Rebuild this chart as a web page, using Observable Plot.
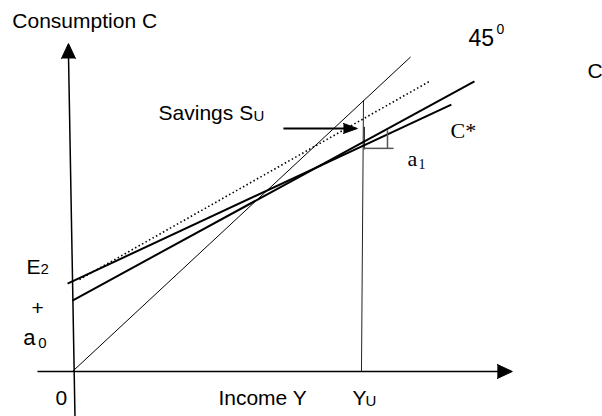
<!DOCTYPE html>
<html>
<head>
<meta charset="utf-8">
<script src="https://cdn.jsdelivr.net/npm/d3@7"></script>
<script src="https://cdn.jsdelivr.net/npm/@observablehq/plot@0.6"></script>
<style>
  html, body { margin: 0; padding: 0; background: #fff; }
  svg { display: block; }
</style>
</head>
<body>
<div id="chart"></div>
<script>
// ---- Data (abstract income / consumption units; 45° line is C = Y) ----
const incomeYU = 100;                       // income level Y_U
const lineNames = ["45°", "E2 line", "savings ref", "a0 line"];
const lineX1 = [0, -1.7, 2.4, 0];
const lineY1 = [0, 32.7, 34.2, 26.4];
const lineX2 = [117, 131.1, 123.5, 139.1];
const lineY2 = [117, 99.3, 107.9, 107.9];

// axes extents
const axisXmin = -12.1, axisXmax = 152.2;   // income axis
const axisYmin = -16.7, axisYmax = 122.0;   // consumption axis

// slope triangle a1 (at Y_U)
const triX = [100.7, 111.1, 109.0];
const triY = [83.0, 83.0, 89.7];

// Savings arrow
const savX1 = 73.0, savX2 = 98.6, savY = 90.4;

// ---- Annotations ----
const sansText = ["Consumption C", "45", "0", "C", "Savings S", "U", "E", "2", "+", "a", "0", "0", "Income Y", "Y", "U"];
const sansX    = [-20.8, 137.0, 146.7, 178.2, 29.8, 62.6, -15.9, -11.1, -14.2, -17.0, -11.8, -5.9, 50.5, 96.9, 101.4];
const sansY    = [127.6, 120.9, 125.7, 109.0, 93.4, 93.0, 36.1, 36.1, 21.2, 9.7, 8.9, -12.6, -12.6, -12.6, -13.0];
const sansSize = [21, 23, 14, 21, 21, 15, 21, 15, 21, 22, 15, 21, 21, 21, 15];

const serifText = ["C*", "a", "1"];
const serifX    = [130.8, 115.9, 119.7];
const serifY    = [86.7, 76.6, 75.5];
const serifSize = [22, 22, 14];

const lines = lineNames.map((name, i) => ({name, x1: lineX1[i], y1: lineY1[i], x2: lineX2[i], y2: lineY2[i]}));
const sans = sansText.map((t, i) => ({t, x: sansX[i], y: sansY[i], s: sansSize[i]}));
const serif = serifText.map((t, i) => ({t, x: serifX[i], y: serifY[i], s: serifSize[i]}));

const thick = lines.filter(d => d.name === "E2 line" || d.name === "a0 line");
const thin45 = lines.filter(d => d.name === "45°");
const dotted = lines.filter(d => d.name === "savings ref");

const chart = Plot.plot({
  width: 602,
  height: 416,
  margin: 0,
  x: {domain: [-24.9, 183.4], axis: null},
  y: {domain: [-16.74, 138.0], axis: null},
  style: {background: "#fff"},
  marks: [
    // axes
    Plot.link([{x1: axisXmin, x2: axisXmax - 4, y: 0}], {x1: "x1", x2: "x2", y1: "y", y2: "y", stroke: "#000", strokeWidth: 1.5}),
    Plot.link([{x1: 0.87, y1: axisYmin, x2: -1.38, y2: axisYmax - 4}], {x1: "x1", y1: "y1", x2: "x2", y2: "y2", stroke: "#000", strokeWidth: 1.5}),
    Plot.vector([{x: axisXmax, y: 0}], {x: "x", y: "y", shape: "spike", anchor: "end", length: 15, r: 7, rotate: 90, fill: "#000", stroke: "#000", strokeWidth: 1}),
    Plot.vector([{x: -1.38, y: axisYmax}], {x: "x", y: "y", shape: "spike", anchor: "end", length: 15, r: 7, rotate: 0, fill: "#000", stroke: "#000", strokeWidth: 1}),
    // Y_U vertical
    Plot.link([{x1: incomeYU, y1: 0, x2: incomeYU + 0.7, y2: 100.8}], {x1: "x1", y1: "y1", x2: "x2", y2: "y2", stroke: "#222", strokeWidth: 1}),
    Plot.link([{x1: incomeYU + 1, y1: 82.6, x2: incomeYU + 1, y2: 91}], {x1: "x1", y1: "y1", x2: "x2", y2: "y2", stroke: "#333", strokeWidth: 1.3}),
    // 45 degree line
    Plot.link(thin45, {x1: "x1", y1: "y1", x2: "x2", y2: "y2", stroke: "#000", strokeWidth: 1}),
    // dotted
    Plot.link(dotted, {x1: "x1", y1: "y1", x2: "x2", y2: "y2", stroke: "#000", strokeWidth: 1.6, strokeDasharray: "1.5,2.5"}),
    // thick consumption lines
    Plot.link(thick, {x1: "x1", y1: "y1", x2: "x2", y2: "y2", stroke: "#000", strokeWidth: 2}),
    // slope triangle
    Plot.link([{x1: triX[0], y1: triY[0], x2: triX[1], y2: triY[1]}, {x1: triX[2], y1: triY[0], x2: triX[2], y2: triY[2]}],
      {x1: "x1", y1: "y1", x2: "x2", y2: "y2", stroke: "#555", strokeWidth: 1.5}),
    // savings arrow
    Plot.link([{x1: savX1, x2: savX2 - 4, y: savY}], {x1: "x1", x2: "x2", y1: "y", y2: "y", stroke: "#000", strokeWidth: 2}),
    Plot.vector([{x: savX2, y: savY}], {x: "x", y: "y", shape: "spike", anchor: "end", length: 14, r: 5, rotate: 90, fill: "#000", stroke: "#000", strokeWidth: 1}),
    // labels
    Plot.text(sans, {x: "x", y: "y", text: "t", fontSize: "s", textAnchor: "start", lineAnchor: "bottom", fill: "#000",
      fontFamily: "Liberation Sans, Arial, sans-serif"}),
    Plot.text(serif, {x: "x", y: "y", text: "t", fontSize: "s", textAnchor: "start", lineAnchor: "bottom", fill: "#000",
      fontFamily: "Liberation Serif, Times New Roman, serif"})
  ]
});
document.getElementById("chart").appendChild(chart);
</script>
</body>
</html>
